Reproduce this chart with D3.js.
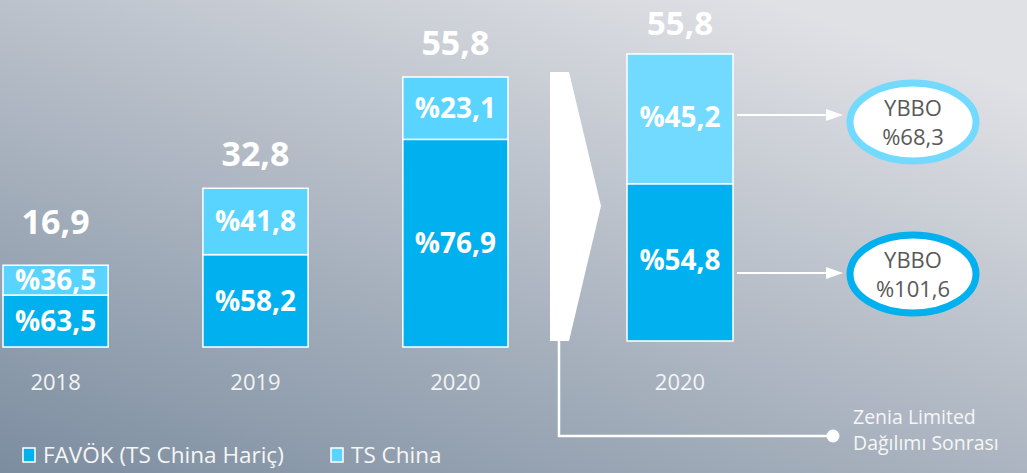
<!DOCTYPE html>
<html>
<head>
<meta charset="utf-8">
<script src="https://cdn.jsdelivr.net/npm/d3@7"></script>
<style>
  body { margin: 0; overflow: hidden; }
  svg { display: block; font-family: "Open Sans", "Noto Sans", sans-serif; }
</style>
</head>
<body>
<div id="root"></div>
<script>
// data
const years = ['2018', '2019', '2020'];
const totals = [16.9, 32.8, 55.8];
const favokShare = [63.5, 58.2, 76.9];
const chinaShare = [36.5, 41.8, 23.1];

// after Zenia Limited distribution
const afterYear = '2020';
const afterTotal = 55.8;
const afterFavok = 54.8;
const afterChina = 45.2;
const ybboLabels = ['%68,3', '%101,6'];   // light (TS China), dark (FAVÖK)

const legendLabels = ['FAVÖK (TS China Hariç)', 'TS China'];
const noteLines = ['Zenia Limited', 'Dağılımı Sonrası'];

const fmt = v => String(v).replace('.', ',');
const dark = '#00b0ef';
const light = '#58d4ff';
const light2 = '#72daff';

const w = 1027, h = 473;
const svg = d3.select('#root').append('svg').attr('width', w).attr('height', h);

// background
const defs = svg.append('defs');
const bg = defs.append('linearGradient').attr('id', 'bg')
    .attr('x1', '0').attr('y1', '1').attr('x2', '0.75').attr('y2', '0');
bg.append('stop').attr('offset', '0').attr('stop-color', '#7c8da0');
bg.append('stop').attr('offset', '0.55').attr('stop-color', '#b2bac5');
bg.append('stop').attr('offset', '1').attr('stop-color', '#e0e1e5');
svg.append('rect').attr('width', w).attr('height', h).attr('fill', 'url(#bg)');

// scales
const x = d3.scaleBand().domain(years).range([3, 508]).paddingInner(0.474).paddingOuter(0);
const y = d3.scaleLinear().domain([0, 55.8]).range([347, 77]);

const x2 = d3.scaleBand().domain([afterYear]).range([627, 733]);
const y2 = d3.scaleLinear().domain([0, 55.8]).range([341, 54]);

// stacked bars, before
const g = svg.append('g');
years.forEach((yr, i) => {
    const top = y(totals[i]);
    const base = y(0);
    const split = base - (base - top) * favokShare[i] / 100;
    const bx = x(yr), bw = x.bandwidth();
    g.append('rect').attr('x', bx).attr('y', split).attr('width', bw).attr('height', base - split)
        .attr('fill', dark).attr('stroke', '#fff').attr('stroke-width', 1.5);
    g.append('rect').attr('x', bx).attr('y', top).attr('width', bw).attr('height', split - top)
        .attr('fill', light).attr('stroke', '#fff').attr('stroke-width', 1.5);

    g.append('text').attr('x', bx + bw / 2).attr('y', (split + base) / 2 + 10)
        .attr('text-anchor', 'middle').attr('fill', '#fff').attr('font-weight', 700)
        .attr('font-size', 28).text('%' + fmt(favokShare[i]));
    g.append('text').attr('x', bx + bw / 2).attr('y', (top + split) / 2 + 10)
        .attr('text-anchor', 'middle').attr('fill', '#fff').attr('font-weight', 700)
        .attr('font-size', 28).text('%' + fmt(chinaShare[i]));

    g.append('text').attr('x', bx + bw / 2).attr('y', top - (i === 0 ? 31 : 22))
        .attr('text-anchor', 'middle').attr('fill', '#fff').attr('font-weight', 700)
        .attr('font-size', 34).text(fmt(totals[i]));
    g.append('text').attr('x', bx + bw / 2).attr('y', 390)
        .attr('text-anchor', 'middle').attr('fill', '#f4f4f4')
        .attr('font-size', 22).text(yr);
});

// bar after
{
    const top = y2(afterTotal), base = y2(0);
    const split = base - (base - top) * afterFavok / 100;
    const bx = x2(afterYear), bw = x2.bandwidth();
    g.append('rect').attr('x', bx).attr('y', split).attr('width', bw).attr('height', base - split)
        .attr('fill', dark).attr('stroke', '#fff').attr('stroke-width', 1.5);
    g.append('rect').attr('x', bx).attr('y', top).attr('width', bw).attr('height', split - top)
        .attr('fill', light2).attr('stroke', '#fff').attr('stroke-width', 1.5);
    g.append('text').attr('x', bx + bw / 2).attr('y', (split + base) / 2 + 8)
        .attr('text-anchor', 'middle').attr('fill', '#fff').attr('font-weight', 700)
        .attr('font-size', 28).text('%' + fmt(afterFavok));
    g.append('text').attr('x', bx + bw / 2).attr('y', (top + split) / 2 + 8)
        .attr('text-anchor', 'middle').attr('fill', '#fff').attr('font-weight', 700)
        .attr('font-size', 28).text('%' + fmt(afterChina));
    g.append('text').attr('x', bx + bw / 2).attr('y', top - 19)
        .attr('text-anchor', 'middle').attr('fill', '#fff').attr('font-weight', 700)
        .attr('font-size', 33).text(fmt(afterTotal));
    g.append('text').attr('x', bx + bw / 2).attr('y', 390)
        .attr('text-anchor', 'middle').attr('fill', '#f4f4f4')
        .attr('font-size', 22).text(afterYear);

    // arrows to ellipses
    const ys = [115, 273];
    ys.forEach((ay, k) => {
        g.append('line').attr('x1', bx + bw + 4).attr('x2', 830).attr('y1', ay).attr('y2', ay)
            .attr('stroke', '#fff').attr('stroke-width', 2);
        g.append('path').attr('d', `M826,${ay - 6}L843,${ay}L826,${ay + 6}Z`).attr('fill', '#fff');
        const cy = ay + 7 - (k === 0 ? 0 : 6);
        g.append('ellipse').attr('cx', 913).attr('cy', cy).attr('rx', 63).attr('ry', 39)
            .attr('fill', '#fff').attr('stroke', k === 0 ? light2 : dark).attr('stroke-width', 7);
        g.append('text').attr('x', 913).attr('y', cy - 6).attr('text-anchor', 'middle')
            .attr('fill', '#595959').attr('font-size', 22).text('YBBO');
        g.append('text').attr('x', 913).attr('y', cy + 23).attr('text-anchor', 'middle')
            .attr('fill', '#595959').attr('font-size', 22).text(ybboLabels[k]);
    });
}

// chevron between charts
g.append('path').attr('d', 'M550,72L569,72L601,206L569,341L550,341Z').attr('fill', '#fff');
g.append('path').attr('d', 'M559,341L559,436L828,436').attr('fill', 'none')
    .attr('stroke', '#fff').attr('stroke-width', 2.5);
g.append('circle').attr('cx', 833).attr('cy', 436).attr('r', 6.5).attr('fill', '#fff');
noteLines.forEach((t, i) => {
    g.append('text').attr('x', 853).attr('y', 424 + i * 26).attr('fill', '#f6f6f6')
        .attr('font-size', 19.5).text(t);
});

// legend
const legX = [23, 331];
legendLabels.forEach((t, i) => {
    const lg = svg.append('g').attr('transform', `translate(${legX[i]},448)`);
    lg.append('rect').attr('width', 12).attr('height', 14).attr('fill', i === 0 ? dark : light)
        .attr('stroke', '#fff').attr('stroke-width', 1.5);
    lg.append('text').attr('x', 20).attr('y', 15).attr('fill', '#f6f6f6')
        .attr('font-size', 22.5).text(t);
});
</script>
</body>
</html>
